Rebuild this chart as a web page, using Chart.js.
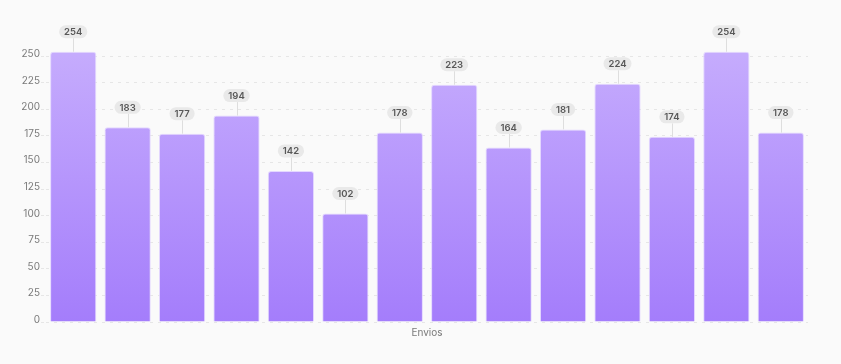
<!DOCTYPE html>
<html>
<head>
<meta charset="utf-8">
<script src="https://cdn.jsdelivr.net/npm/chart.js@4"></script>
<style>
  html, body { margin: 0; padding: 0; background: #fafafa; }
  #wrap { width: 841px; height: 364px; }
</style>
</head>
<body>
<div id="wrap"><canvas id="myChart"></canvas></div>
<script>
// Data
const categories = ['1', '2', '3', '4', '5', '6', '7', '8', '9', '10', '11', '12', '13', '14'];
const envios = [254, 183, 177, 194, 142, 102, 178, 223, 164, 181, 224, 174, 254, 178];
const yTicks = [0, 25, 50, 75, 100, 125, 150, 175, 200, 225, 250];

// Gradient over the plot area
function barGradient(ctx) {
  const chart = ctx.chart;
  const area = chart.chartArea;
  if (!area) return '#b18efc';
  const g = chart.ctx.createLinearGradient(0, area.top, 0, area.bottom);
  g.addColorStop(0, '#c5abfd');
  g.addColorStop(1, '#a47dfb');
  return g;
}

// Value pills above each bar
const pillLabels = {
  id: 'pillLabels',
  afterDatasetsDraw(chart) {
    const ctx = chart.ctx;
    const meta = chart.getDatasetMeta(0);
    ctx.save();
    ctx.font = '600 9.5px Inter, "Noto Sans", sans-serif';
    ctx.textAlign = 'center';
    ctx.textBaseline = 'middle';
    meta.data.forEach((bar, i) => {
      const text = String(envios[i]);
      const cx = bar.x;
      const cy = bar.y - 20;
      const w = ctx.measureText(text).width + 10;
      const h = 13;
      // connector
      ctx.strokeStyle = '#dedede';
      ctx.lineWidth = 1;
      ctx.beginPath();
      ctx.moveTo(Math.round(cx) + 0.5, cy + h / 2);
      ctx.lineTo(Math.round(cx) + 0.5, bar.y);
      ctx.stroke();
      // pill
      ctx.fillStyle = '#e9e9e9';
      ctx.beginPath();
      ctx.roundRect(cx - w / 2, cy - h / 2, w, h, h / 2);
      ctx.fill();
      ctx.fillStyle = '#585858';
      ctx.fillText(text, cx, cy + 0.5);
    });
    ctx.restore();
  }
};

const chart = new Chart(document.getElementById('myChart'), {
  type: 'bar',
  data: {
    labels: categories,
    datasets: [{
      label: 'Envios',
      data: envios,
      backgroundColor: barGradient,
      borderColor: 'rgba(225, 212, 255, 0.9)',
      borderWidth: 1,
      borderRadius: { topLeft: 3, topRight: 3 },
      borderSkipped: 'bottom',
      categoryPercentage: 1,
      barPercentage: 0.85,
      clip: false
    }]
  },
  options: {
    responsive: true,
    maintainAspectRatio: false,
    animation: false,
    layout: { padding: { top: 56, right: 33, bottom: 0, left: 0 } },
    plugins: {
      legend: { display: false },
      tooltip: { enabled: false }
    },
    scales: {
      x: {
        grid: { display: false, drawTicks: false },
        border: { display: false },
        ticks: { display: false },
        title: {
          display: true,
          text: 'Envios',
          color: '#7a7a7a',
          font: { family: 'Inter, "Noto Sans", sans-serif', size: 10 },
          padding: { top: 4, bottom: 25 }
        },
        afterFit(s) { s.height = 42; }
      },
      y: {
        min: 0,
        max: 250,
        afterBuildTicks(s) { s.ticks = yTicks.map(v => ({ value: v })); },
        grid: {
          color: '#e6e6e6',
          tickColor: '#e6e6e6',
          tickLength: 5,
          tickBorderDash: [3, 5],
          drawTicks: true
        },
        border: { display: false, dash: [3, 5] },
        ticks: {
          color: '#7a7a7a',
          padding: 1,
          labelOffset: -2,
          font: { family: 'Inter, "Noto Sans", sans-serif', size: 10 }
        },
        afterFit(s) { s.width = 46; }
      }
    }
  },
  plugins: [pillLabels]
});
</script>
</body>
</html>
